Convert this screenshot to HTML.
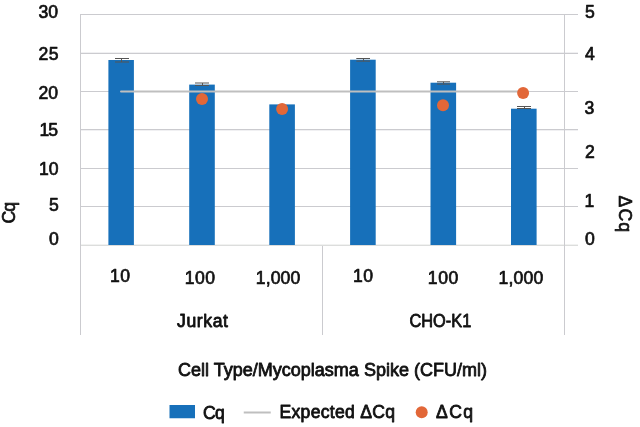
<!DOCTYPE html>
<html>
<head>
<meta charset="utf-8">
<title>Cq chart</title>
<style>
html,body{margin:0;padding:0;background:#fff;}
body{width:640px;height:427px;overflow:hidden;position:relative;}
svg{position:absolute;left:0;top:0;will-change:transform;}
text{font-family:"Liberation Sans",Arial,sans-serif;fill:#111;stroke:#111;stroke-width:0.7px;stroke-linejoin:round;}
.m{stroke-width:0.8px;}
</style>
</head>
<body>
<svg width="640" height="427" viewBox="0 0 640 427">
<!-- gridlines -->
<g fill="#cbcbcf">
<rect x="80" y="14" width="498" height="1"/>
<rect x="80" y="53" width="498" height="1"/>
<rect x="80" y="91" width="498" height="1"/>
<rect x="80" y="129" width="498" height="1"/>
<rect x="80" y="168" width="498" height="1"/>
<rect x="80" y="206" width="498" height="1"/>
</g>
<rect x="80" y="52" width="498" height="1" fill="#f0f0f2"/>
<rect x="80" y="130" width="498" height="1" fill="#f0f0f2"/>
<rect x="80" y="244" width="498" height="1" fill="#f1f2f1"/>
<rect x="80" y="245" width="498" height="1" fill="#dcdddc"/>
<!-- vertical borders -->
<g fill="#cbcbcf">
<rect x="80" y="14" width="1" height="321"/>
<rect x="564" y="14" width="1" height="321"/>
<rect x="322" y="246" width="1" height="89"/>
</g>
<!-- bars -->
<g fill="#1770ba">
<rect x="108.4" y="60" width="25.5" height="185"/>
<rect x="189.2" y="84.6" width="25.6" height="160.4"/>
<rect x="269.3" y="104.4" width="25.6" height="140.6"/>
<rect x="350.1" y="59.7" width="25.6" height="185.3"/>
<rect x="430.5" y="82.7" width="25.6" height="162.3"/>
<rect x="511" y="108.7" width="25.6" height="136.3"/>
</g>
<!-- error bars -->
<g stroke="#555" stroke-width="1" fill="none">
<path d="M115 58.5H129M115 62H129M121.5 58.5V62"/>
<path d="M195 83H209M195 85.5H209M202.5 83V85.5"/>
<path d="M356.3 58.5H370M356.3 61.1H370M363.5 58.5V61.1"/>
<path d="M437 81.8H450M437 84.1H450M443.5 81.8V84.1"/>
<path d="M517 106.5H531M517 108.5H531M524.5 106.5V108.5"/>
</g>
<!-- expected line -->
<line x1="121" y1="91.4" x2="523" y2="91.4" stroke="#bfbfbf" stroke-width="2" stroke-linecap="round"/>
<!-- dots -->
<g fill="#e26738">
<circle cx="202" cy="99" r="6"/>
<circle cx="282.1" cy="108.9" r="6"/>
<circle cx="443" cy="105.2" r="6"/>
<circle cx="523.1" cy="93.1" r="6"/>
</g>
<!-- legend shapes -->
<rect x="169.5" y="405" width="25.5" height="13.25" fill="#1770ba"/>
<line x1="243.75" y1="412.5" x2="270.75" y2="412.5" stroke="#bfbfbf" stroke-width="2"/>
<circle cx="421.7" cy="412.3" r="6" fill="#e26738"/>

<text x="38.50" y="18.00" font-size="17.600" textLength="19.56" lengthAdjust="spacing">30</text>
<text x="38.50" y="59.90" font-size="17.600" textLength="20.03" lengthAdjust="spacing">25</text>
<text x="38.50" y="98.90" font-size="17.600" textLength="19.53" lengthAdjust="spacing">20</text>
<text x="39.50" y="136.40" font-size="17.600" textLength="18.66" lengthAdjust="spacing">15</text>
<text x="39.00" y="175.10" font-size="17.600" textLength="19.55" lengthAdjust="spacing">10</text>
<text x="49.00" y="210.90" font-size="17.600">5</text>
<text x="49.00" y="244.80" font-size="17.600">0</text>
<text x="585.00" y="17.90" font-size="17.600">5</text>
<text x="585.00" y="60.30" font-size="17.600">4</text>
<text x="584.50" y="114.10" font-size="17.600">3</text>
<text x="585.00" y="158.00" font-size="17.600">2</text>
<text x="584.50" y="206.50" font-size="17.600">1</text>
<text x="585.00" y="245.10" font-size="17.600">0</text>
<text x="110.00" y="281.70" font-size="17.600" textLength="20.06" lengthAdjust="spacing">10</text>
<text x="184.75" y="284.25" font-size="17.600" textLength="30.31" lengthAdjust="spacing">100</text>
<text x="255.75" y="284.25" font-size="17.600" textLength="44.55" lengthAdjust="spacing">1,000</text>
<text x="353.00" y="281.60" font-size="17.600" textLength="20.09" lengthAdjust="spacing">10</text>
<text x="427.75" y="284.25" font-size="17.600" textLength="30.57" lengthAdjust="spacing">100</text>
<text x="498.50" y="284.25" font-size="17.600" textLength="44.80" lengthAdjust="spacing">1,000</text>
<text class="m" x="177.00" y="326.75" font-size="17.600" textLength="51.00" lengthAdjust="spacing">Jurkat</text>
<text class="m" x="409.50" y="327.00" font-size="17.600" textLength="61.77" lengthAdjust="spacingAndGlyphs">CHO-K1</text>
<text class="m" x="178.00" y="375.80" font-size="18.000" textLength="309.00" lengthAdjust="spacing">Cell Type/Mycoplasma Spike (CFU/ml)</text>
<text transform="translate(14.75 223.50) rotate(-90)" x="0" y="0" font-size="17.600" textLength="21.58" lengthAdjust="spacing">Cq</text>
<text transform="translate(618.80 195.50) rotate(90)" x="0" y="0" font-size="17.600" textLength="36.55" lengthAdjust="spacing">ΔCq</text>
<text class="m" x="203.00" y="418.75" font-size="17.600" textLength="21.81" lengthAdjust="spacing">Cq</text>
<text class="m" x="279.50" y="418.30" font-size="17.600" textLength="115.53" lengthAdjust="spacing">Expected ΔCq</text>
<text class="m" x="436.00" y="418.40" font-size="17.600" textLength="37.05" lengthAdjust="spacing">ΔCq</text>
</svg>
</body>
</html>
